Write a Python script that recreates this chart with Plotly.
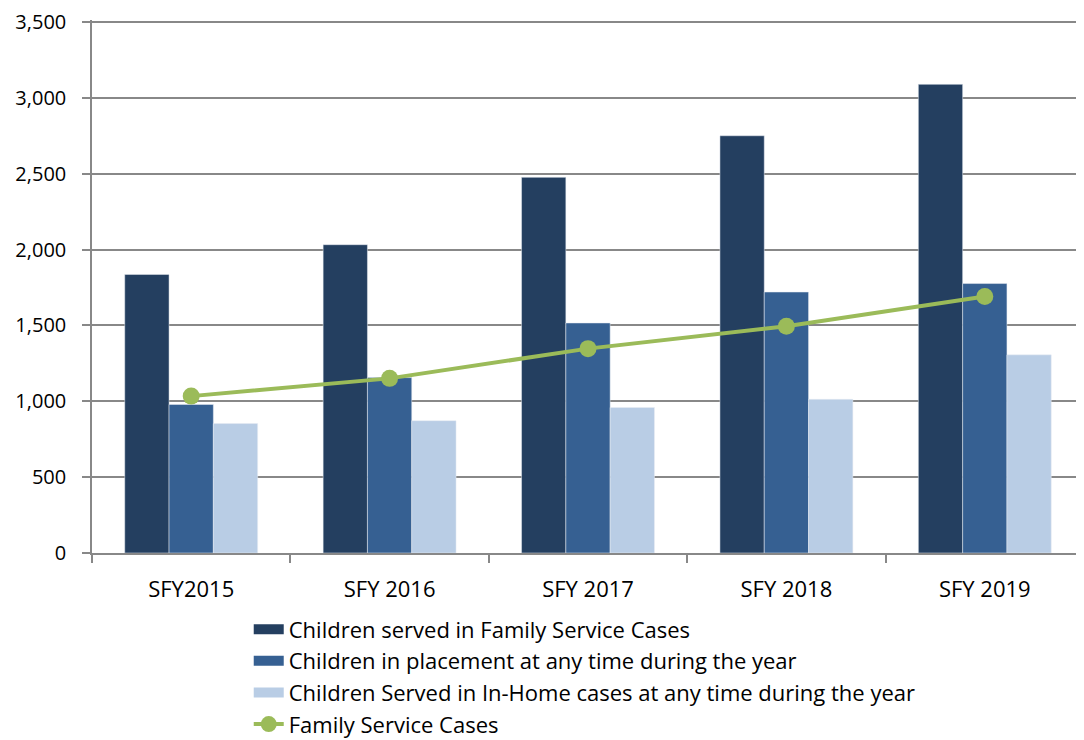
import plotly.graph_objects as go

years = ["SFY2015", "SFY 2016", "SFY 2017", "SFY 2018", "SFY 2019"]
children_served = [1836, 2032, 2476, 2750, 3089]
children_placement = [979, 1156, 1516, 1720, 1776]
children_in_home = [853, 872, 959, 1013, 1306]
family_cases = [1034, 1151, 1347, 1495, 1691]

bar_series = [
    ("Children served in Family Service Cases", children_served, "#243F60"),
    ("Children in placement at any time during the year", children_placement, "#366092"),
    ("Children Served in In-Home cases at any time during the year", children_in_home, "#B9CDE5"),
]

fig = go.Figure()
for name, vals, color in bar_series:
    fig.add_trace(go.Bar(x=years, y=vals, name=name, showlegend=False,
                         marker=dict(color=color, line=dict(color="#E8EDF3", width=0.5))))
    # wide rectangle legend swatch like the original
    fig.add_trace(go.Scatter(x=[None], y=[None], name=name, mode="lines",
                             line=dict(color=color, width=18)))
fig.add_trace(go.Scatter(x=years, y=family_cases, name="Family Service Cases", mode="lines+markers",
                         line=dict(color="#9BBB59", width=4), marker=dict(size=17, color="#9BBB59")))

# page has an 8px body margin, so the figure is 8px smaller than the window
fig.update_layout(
    width=1076, height=732,
    margin=dict(l=84, r=0, t=12, b=187, autoexpand=False),
    plot_bgcolor="white", paper_bgcolor="white",
    font=dict(family="Open Sans", size=21, color="black"),
    barmode="group", bargap=0.33, bargroupgap=0,
    showlegend=True,
    legend=dict(x=0.158, y=-0.104, xanchor="left", yanchor="top",
                font=dict(size=22), tracegroupgap=0, traceorder="normal", bgcolor="rgba(0,0,0,0)"),
)
fig.update_xaxes(showline=True, linecolor="#888888", linewidth=1.5, ticks="outside", tickson="boundaries",
                 tickcolor="#888888", ticklen=8, tickwidth=1.5, tickangle=0, ticklabelstandoff=16,
                 tickfont=dict(size=22))
fig.update_yaxes(range=[0, 3513], tickvals=[0, 500, 1000, 1500, 2000, 2500, 3000, 3500], tickformat=",",
                 showgrid=True, gridcolor="#888888", gridwidth=1.5, ticklabeloverflow="allow",
                 showline=True, linecolor="#888888", linewidth=1.5, ticks="outside", tickcolor="#888888",
                 ticklen=8, tickwidth=1.5, zeroline=False, ticklabelstandoff=12, tickfont=dict(size=20))

fig.write_html("out.html")
